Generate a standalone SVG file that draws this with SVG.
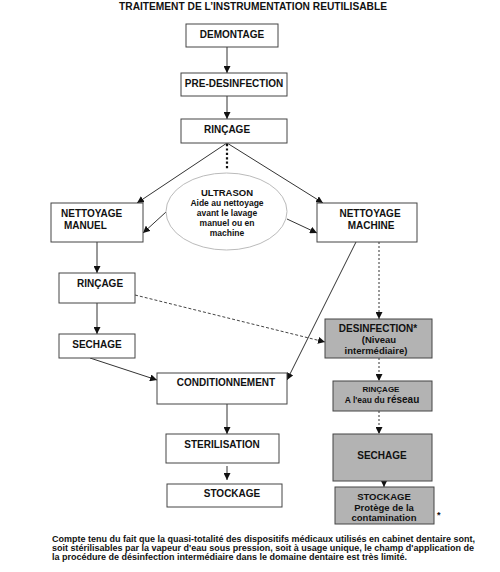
<svg xmlns="http://www.w3.org/2000/svg" width="500" height="572" viewBox="0 0 500 572">
<style>
text{font-family:"Liberation Sans",Arial,sans-serif;font-weight:bold;fill:#111}
.b{fill:#fff;stroke:#444;stroke-width:1}
.g{fill:#b3b3b3;stroke:#444;stroke-width:1}
.t{font-size:10px}
.c{text-anchor:middle}
.s{font-size:8.5px}
.ln{stroke:#333;stroke-width:1;fill:none}
.dt{stroke:#333;stroke-width:1;stroke-dasharray:2 2;fill:none}
.ds{stroke:#444;stroke-width:1;stroke-dasharray:3 2;fill:none}
</style>
<defs>
<marker id="a" viewBox="0 0 10 10" refX="10" refY="5" markerWidth="7" markerHeight="7" markerUnits="userSpaceOnUse" orient="auto">
<path d="M0,0 L10,5 L0,10 z" fill="#111"/>
</marker>
</defs>
<text x="253" y="10" class="c" font-size="10.2">TRAITEMENT DE L’INSTRUMENTATION REUTILISABLE</text>
<g id="connectors">
<line class="ln" x1="227" y1="47" x2="227" y2="73" marker-end="url(#a)"/>
<line class="ln" x1="227" y1="96" x2="227" y2="119" marker-end="url(#a)"/>
<line class="ln" x1="227" y1="143" x2="137" y2="203" marker-end="url(#a)"/>
<line class="ln" x1="227" y1="143" x2="323" y2="203" marker-end="url(#a)"/>
<line x1="227" y1="144" x2="227" y2="170" stroke="#111" stroke-width="2.2" stroke-dasharray="2.2 2.2"/>
<line class="ln" x1="166" y1="212" x2="143" y2="233" marker-end="url(#a)"/>
<line class="ln" x1="287" y1="219" x2="317" y2="233" marker-end="url(#a)"/>
<line class="ln" x1="97" y1="242" x2="97" y2="273" marker-end="url(#a)"/>
<line class="ln" x1="97" y1="303" x2="97" y2="334" marker-end="url(#a)"/>
<line class="ln" x1="90" y1="358" x2="157" y2="380" marker-end="url(#a)"/>
<line class="ln" x1="356" y1="242" x2="287" y2="380" marker-end="url(#a)"/>
<line class="dt" x1="379" y1="242" x2="379" y2="319" marker-end="url(#a)"/>
<line class="ds" x1="135" y1="295" x2="325" y2="342" marker-end="url(#a)"/>
<line class="dt" x1="379" y1="358" x2="379" y2="381" marker-end="url(#a)"/>
<line class="dt" x1="379" y1="411" x2="379" y2="434" marker-end="url(#a)"/>
<line class="ln" x1="384" y1="481" x2="384" y2="487" marker-end="url(#a)"/>
<line class="ln" x1="227" y1="404" x2="227" y2="434" marker-end="url(#a)"/>
<line class="ln" x1="227" y1="466" x2="227" y2="480" marker-end="url(#a)"/>
</g>
<g id="demontage"><rect class="b" x="186" y="24" width="92" height="23"/><text class="t c" x="232" y="38">DEMONTAGE</text></g>
<g id="predesinfection"><rect class="b" x="181" y="73" width="106" height="23"/><text class="t c" x="234" y="87">PRE-DESINFECTION</text></g>
<g id="rincage1"><rect class="b" x="181" y="119" width="106" height="24"/><text class="t c" x="227" y="133">RINÇAGE</text></g>
<g id="ultrason"><ellipse cx="226.5" cy="211.5" rx="60.5" ry="38.5" fill="#fff" stroke="#bbb" stroke-width="1"/>
<text class="c" x="227" y="196" font-size="9.5">ULTRASON</text>
<text class="s c" x="227" y="206">Aide au nettoyage</text>
<text class="s c" x="227" y="216">avant le lavage</text>
<text class="s c" x="227" y="226">manuel ou en</text>
<text class="s c" x="227" y="236">machine</text></g>
<g id="nettoyage-manuel"><rect class="b" x="51" y="203" width="92" height="39"/><text class="t" x="61" y="217">NETTOYAGE</text><text class="t" x="64" y="229">MANUEL</text></g>
<g id="nettoyage-machine"><rect class="b" x="317" y="203" width="100" height="39"/><text class="t c" x="370" y="217">NETTOYAGE</text><text class="t c" x="371" y="229">MACHINE</text></g>
<g id="rincage2"><rect class="b" x="59" y="273" width="76" height="30"/><text class="t c" x="100" y="287">RINÇAGE</text></g>
<g id="sechage1"><rect class="b" x="59" y="334" width="76" height="24"/><text class="t c" x="97" y="348">SECHAGE</text></g>
<g id="conditionnement"><rect class="b" x="157" y="373" width="130" height="31"/><text class="t c" x="226" y="386">CONDITIONNEMENT</text></g>
<g id="sterilisation"><rect class="b" x="166" y="434" width="113" height="29"/><text class="t c" x="222" y="448">STERILISATION</text></g>
<g id="stockage1"><rect class="b" x="167" y="484" width="115" height="23"/><text class="t c" x="232" y="497">STOCKAGE</text></g>
<g id="desinfection"><rect class="g" x="325" y="319" width="107" height="39"/>
<text class="t c" x="378" y="332">DESINFECTION*</text>
<text class="c" x="379" y="343" font-size="9.5">(Niveau</text>
<text class="c" x="376" y="354" font-size="9.5">intermédiaire)</text></g>
<g id="rincage3"><rect class="g" x="333" y="381" width="99" height="30"/>
<text class="c" x="381" y="392" font-size="8">RINÇAGE</text>
<text class="c" x="382" y="403" font-size="8.5">A l'eau du <tspan font-size="10">réseau</tspan></text></g>
<g id="sechage2"><rect class="g" x="333" y="434" width="99" height="47"/><text class="t c" x="382" y="459">SECHAGE</text></g>
<g id="stockage2"><rect class="g" x="335" y="487" width="99" height="37"/>
<text class="c" x="384" y="500" font-size="9.5">STOCKAGE</text>
<text class="c" x="384" y="511" font-size="9.5">Protège de la</text>
<text class="c" x="384" y="521" font-size="9.5">contamination</text></g>
<text x="437" y="518" font-size="9">*</text>
<g id="note" font-size="9">
<text x="52" y="542">Compte tenu du fait que la quasi-totalité des dispositifs médicaux utilisés en cabinet dentaire sont,</text>
<text x="52" y="551">soit stérilisables par la vapeur d'eau sous pression, soit à usage unique, le champ d'application de</text>
<text x="52" y="560">la procédure de désinfection intermédiaire dans le domaine dentaire est très limité.</text>
</g>
</svg>
